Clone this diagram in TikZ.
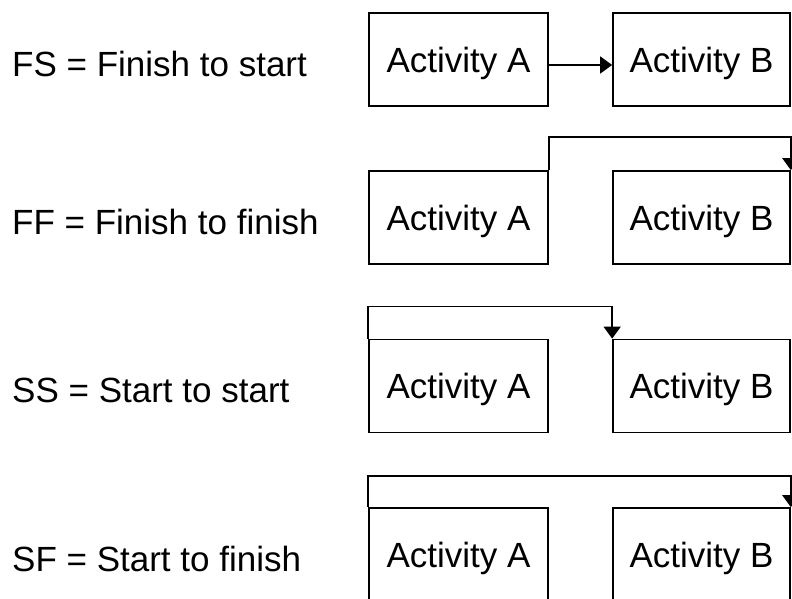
\documentclass[tikz,border=0pt]{standalone}
\usepackage{fontspec}
\setmainfont{Liberation Sans}
\usetikzlibrary{arrows.meta}
\begin{document}
\begin{tikzpicture}[x=1pt,y=1pt,
  actbox/.style={draw, line width=1.7pt, rectangle, inner sep=0pt,
    minimum height=93pt, text height=26pt, text depth=0pt,
    font=\fontsize{35}{40}\selectfont},
  boxa/.style={actbox, minimum width=179pt},
  boxb/.style={actbox, minimum width=177pt},
  deplabel/.style={anchor=base west, inner sep=0pt,
    font=\fontsize{35}{40}\selectfont},
  link/.style={line width=1.7pt, -{Triangle[length=12pt,width=17pt]}}]
\clip (0,0) rectangle (792,599);
\fill[white] (0,0) rectangle (792,599);

% Finish to start
\node[deplabel] (fsl) at (12,522) {FS = Finish to start};
\node[boxa] (fsa) at (458.5,539.5) {Activity A};
\node[boxb] (fsb) at (701.5,539.5) {Activity B};
\draw[link] ([yshift=-5.5pt]fsa.east) -- ([yshift=-5.5pt]fsb.west);

% Finish to finish
\node[deplabel] (ffl) at (12,364) {FF = Finish to finish};
\node[boxa] (ffa) at (458.5,381.5) {Activity A};
\node[boxb] (ffb) at (701.5,381.5) {Activity B};
\draw[link] (ffa.north east) -- ++(0,33) -| (ffb.north east);

% Start to start
\node[deplabel] (ssl) at (12,196) {SS = Start to start};
\node[boxa] (ssa) at (458.5,213) {Activity A};
\node[boxb] (ssb) at (701.5,213) {Activity B};
\draw[link] (ssa.north west) -- ++(0,32) -| (ssb.north west);

% Start to finish
\node[deplabel] (sfl) at (12,27) {SF = Start to finish};
\node[boxa] (sfa) at (458.5,44.5) {Activity A};
\node[boxb] (sfb) at (701.5,44.5) {Activity B};
\draw[link] (sfa.north west) -- ++(0,31) -| (sfb.north east);
\end{tikzpicture}
\end{document}
